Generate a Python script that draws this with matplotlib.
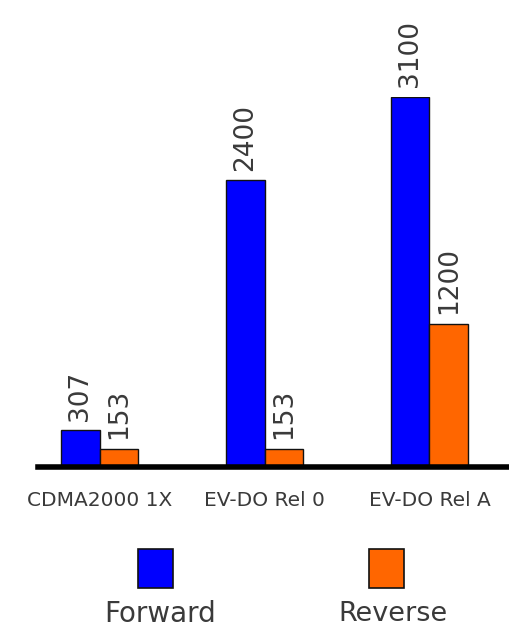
import matplotlib
matplotlib.use("Agg")
import matplotlib.pyplot as plt
from matplotlib.patches import Rectangle
import numpy as np

# throughput per technology (kbps)
technologies = ["CDMA2000 1X", "EV-DO Rel 0", "EV-DO Rel A"]
forward = [307, 2400, 3100]
reverse = [153, 153, 1200]
series_names = ["Forward", "Reverse"]

blue = "#0000ff"
orange = "#ff6600"
text_color = "#3a3a3a"

plt.rcParams["font.family"] = "DejaVu Sans"

fig = plt.figure(figsize=(5.10, 6.31), dpi=100)
ax = fig.add_axes([0.0745, 0.26, 0.9255, 0.586])

x = np.arange(len(technologies))
w = 0.236
b1 = ax.bar(x - w / 2, forward, w, color=blue, edgecolor="#111111", linewidth=1.0)
b2 = ax.bar(x + w / 2, reverse, w, color=orange, edgecolor="#111111", linewidth=1.0)

for bars, vals in ((b1, forward), (b2, reverse)):
    for rect, v in zip(bars, vals):
        ax.annotate(str(v), (rect.get_x() + rect.get_width() / 2, v),
                    xytext=(0, 7), textcoords="offset points",
                    rotation=90, ha="center", va="bottom",
                    fontsize=19, color=text_color)

ax.set_xlim(-0.373, 2.488)
ax.set_ylim(0, 3100 * 0.586 * 631 / 370)

for s in ("top", "right", "left"):
    ax.spines[s].set_visible(False)
ax.spines["bottom"].set_linewidth(4)
ax.spines["bottom"].set_color("black")
ax.set_yticks([])
ax.set_xticks(x)
ax.set_xticklabels(technologies, fontsize=14.5, color=text_color)
ax.tick_params(axis="x", length=0, pad=17)

# legend drawn below the axis
colors = [blue, orange]
for i, (name, c) in enumerate(zip(series_names, colors)):
    cx = [155, 386][i] / 510
    fig.patches.append(Rectangle((cx - 17 / 510, 1 - 588 / 631), 35 / 510, 39 / 631,
                                 transform=fig.transFigure, facecolor=c,
                                 edgecolor="#111111", linewidth=1.2))
    fig.text([160, 393][i] / 510, 1 - [614, 614][i] / 631, name,
             ha="center", va="center", fontsize=[20, 19.5][i], color=text_color)

fig.savefig("out.png", dpi=100)
